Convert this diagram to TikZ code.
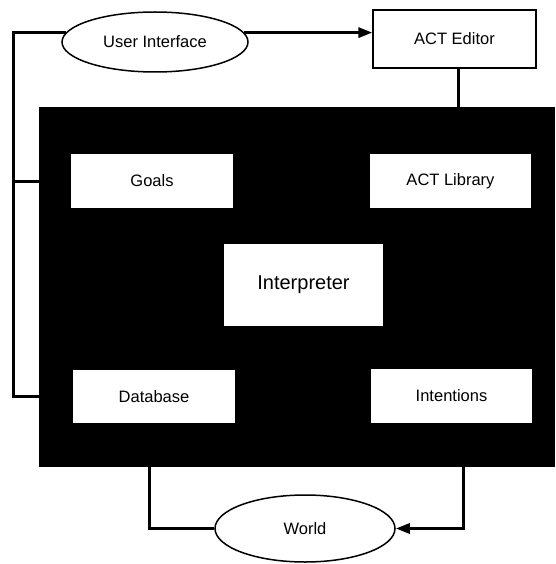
\documentclass[tikz,border=0pt]{standalone}
\usepackage{fontspec}
\setmainfont{Liberation Sans}
\usetikzlibrary{shapes.geometric,arrows.meta,calc}
\begin{document}
\begin{tikzpicture}[x=1pt,y=-1pt,
  lbl/.style={font=\fontsize{16.5}{19}\selectfont},
  oval/.style={ellipse, draw, line width=1.5pt, fill=white, inner sep=0pt, lbl},
  panel/.style={fill=white, inner sep=0pt, lbl},
  conn/.style={line width=3pt},
  tip/.style={-{Triangle[length=14pt,width=10pt]}}]
\useasboundingbox (0,0) rectangle (555,564);

% outer components
\node[oval, minimum width=186pt, minimum height=60pt] (ui) at (155,42) {User Interface};
\node[draw, line width=1.3pt, minimum width=163pt, minimum height=58pt, lbl] (edit) at (454.5,39) {ACT Editor};
\node[oval, minimum width=180pt, minimum height=67pt] (world) at (305,528.5) {World};

% agent body
\node[fill=black, minimum width=516pt, minimum height=360pt, inner sep=0pt] (agent) at (297,287) {};
\node[panel, minimum width=162pt, minimum height=54pt] (goals) at (152,181) {Goals};
\node[panel, minimum width=161pt, minimum height=54pt] (lib) at (450.5,181) {ACT Library};
\node[panel, minimum width=159pt, minimum height=82pt, font=\fontsize{20}{23}\selectfont] (interp) at (303.5,285) {Interpreter};
\node[panel, minimum width=162pt, minimum height=53pt] (db) at (154,396.5) {Database};
\node[panel, minimum width=161pt, minimum height=54pt] (int) at (451.5,396) {Intentions};

% connector columns
\coordinate (lx) at (13,0);
\coordinate (bx) at (149,0);
\coordinate (rx) at (463,0);
\coordinate (ex) at (458,0);

% connectors
\draw[conn, tip] (ui.6) -- (ui.6 -| edit.west);
\draw[conn] (ui.174) -| (lx |- db) -- (agent.west |- db);
\draw[conn] (lx |- goals) -- (agent.west |- goals);
\draw[conn] (edit.south -| ex) -- (agent.north -| ex);
\draw[conn] (agent.south -| bx) |- (world.west);
\draw[conn, tip] (agent.south -| rx) |- (world.east);
\end{tikzpicture}
\end{document}
